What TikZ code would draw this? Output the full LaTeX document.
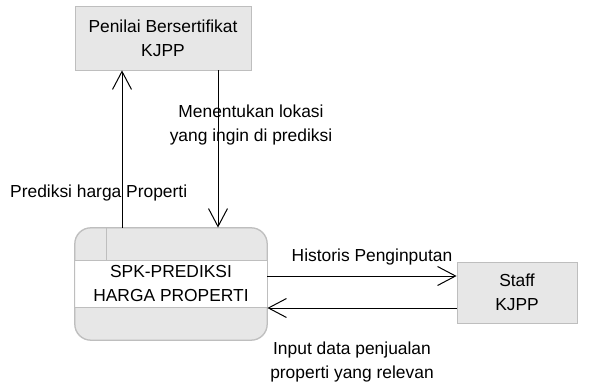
\documentclass[tikz,border=0pt]{standalone}
\usepackage{fontspec}
\setmainfont{Liberation Sans}
\usetikzlibrary{arrows.meta}

\tikzset{
  entity/.style={draw={rgb,255:red,190;green,190;blue,190}, fill={rgb,255:red,231;green,231;blue,231}, line width=0.8pt, inner sep=0pt, align=center},
  divider/.style={draw={rgb,255:red,190;green,190;blue,190}, line width=0.8pt},
  flow/.style={line width=1pt, -{Straight Barb[length=18pt, width=19pt, line width=1pt]}},
  lbl/.style={inner sep=0pt, align=center}
}

\begin{document}
\begin{tikzpicture}[x=1pt,y=1pt,yscale=-1,xscale=1,font=\fontsize{17.4}{24}\selectfont]
\useasboundingbox (0,0) rectangle (596,387);

%Shape: Rectangle [external entity]
\node [entity, minimum width=176pt, minimum height=64pt] (penilai) at (163,38) {Penilai Bersertifikat\\KJPP};
%Shape: Rectangle [external entity]
\node [entity, minimum width=120pt, minimum height=61pt] (staff) at (517,292.5) {Staff\\KJPP};

%Shape: Rounded Rectangle [process]
\node [entity, rounded corners=16pt, minimum width=192pt, minimum height=112pt] (proc) at (171,284) {};
\fill [white] ([yshift=33pt]proc.north west) rectangle ([yshift=-33pt]proc.south east);
\draw [divider, rounded corners=16pt] (proc.north west) rectangle (proc.south east);
\draw [divider] ([yshift=33pt]proc.north west) -- ([yshift=33pt]proc.north east);
\draw [divider] ([yshift=-33pt]proc.south west) -- ([yshift=-33pt]proc.south east);
\draw [divider] ([xshift=32pt]proc.north west) -- ([xshift=32pt,yshift=33pt]proc.north west);
\node [lbl] (proctext) at (proc.center) {SPK-PREDIKSI\\HARGA PROPERTI};

%Straight Lines
\draw [flow] ([xshift=-49pt]proc.north) -- ([xshift=-49pt]proc.north |- penilai.south);
\draw [flow] ([xshift=55pt]penilai.south) -- ([xshift=55pt]penilai.south |- proc.north);
\draw [flow] ([yshift=-8pt]proc.east) -- ([yshift=-8pt]proc.east -| staff.west);
\draw [flow] ([yshift=24pt]proc.east -| staff.west) -- ([yshift=24pt]proc.east);

%Labels
\node [lbl, anchor=west] (lblprediksi) at (10,193) {Prediksi harga Properti};
\node [lbl] (lbllokasi) at (251,125) {Menentukan lokasi\\yang ingin di prediksi};
\node [lbl] (lblhistoris) at (372,257) {Historis Penginputan};
\node [lbl] (lblinput) at (352,362) {Input data penjualan\\properti yang relevan};

\end{tikzpicture}
\end{document}
